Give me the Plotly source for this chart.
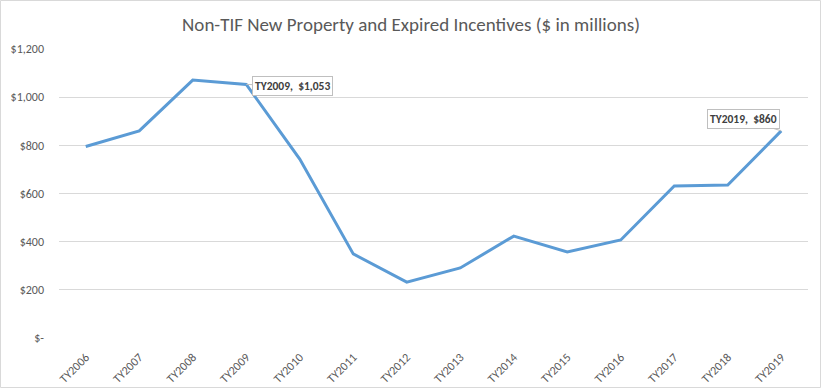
import plotly.graph_objects as go

years = ["TY2006", "TY2007", "TY2008", "TY2009", "TY2010", "TY2011", "TY2012",
         "TY2013", "TY2014", "TY2015", "TY2016", "TY2017", "TY2018", "TY2019"]
values = [795, 860, 1071, 1053, 743, 349, 232, 291, 423, 357, 407, 631, 635, 860]
ytick_vals = [0, 200, 400, 600, 800, 1000, 1200]
ytick_text = ["$-", "$200", "$400", "$600", "$800", "$1,000", "$1,200"]

W, H = 822, 389
L, R, T, B = 59, 14, 49, 51

fig = go.Figure()
fig.add_trace(go.Scatter(x=years, y=values, mode="lines",
                         line=dict(color="#5B9BD5", width=3), hoverinfo="x+y"))

font = "Calibri, Carlito, Lato, 'Open Sans', sans-serif"

def callout(i, ax, ay):
    v = values[i]
    fig.add_annotation(x=years[i], y=v, text=f"<b>{years[i]},  ${v:,}</b>",
                       showarrow=True, arrowhead=0, arrowwidth=1, arrowcolor="#BFBFBF",
                       ax=ax, ay=ay, bgcolor="white", bordercolor="#BFBFBF",
                       borderwidth=1, borderpad=2,
                       font=dict(family=font, size=11.5, color="#404040"))

callout(3, 46, 2)
callout(13, -38, -12)

pw = W - L - R
ph = H - T - B
fig.add_shape(type="rect", xref="paper", yref="paper",
              x0=(0.5 - L) / pw, x1=(820.5 - L) / pw,
              y0=(H - B - 387.5) / ph, y1=(H - B - 0.5) / ph,
              line=dict(color="#D9D9D9", width=1), layer="below")

fig.update_layout(
    width=W, height=H,
    margin=dict(l=L, r=R, t=T, b=B, autoexpand=False),
    paper_bgcolor="white", plot_bgcolor="white",
    showlegend=False,
    title=dict(text="Non-TIF New Property and Expired Incentives ($ in millions)",
               x=411 / W, xref="container", xanchor="center",
               y=1 - 24 / H, yanchor="middle",
               font=dict(family=font, size=19, color="#595959")),
    xaxis=dict(type="category", range=[-0.5, len(years) - 0.5], tickangle=-45,
               showgrid=False, zeroline=False, automargin=False,
               showline=False, ticks="", ticklabelstandoff=9,
               tickfont=dict(family=font, size=12, color="#595959")),
    yaxis=dict(range=[0, 1200], tickvals=ytick_vals, ticktext=ytick_text,
               showgrid=True, gridcolor="#D9D9D9", gridwidth=1, zeroline=False,
               automargin=False,
               showline=False, ticks="", ticklabelstandoff=14,
               tickfont=dict(family=font, size=12, color="#595959")),
)

fig.write_html("out.html", config={"displayModeBar": False},
               post_script="document.body.style.margin='0';document.body.style.overflow='hidden';")
